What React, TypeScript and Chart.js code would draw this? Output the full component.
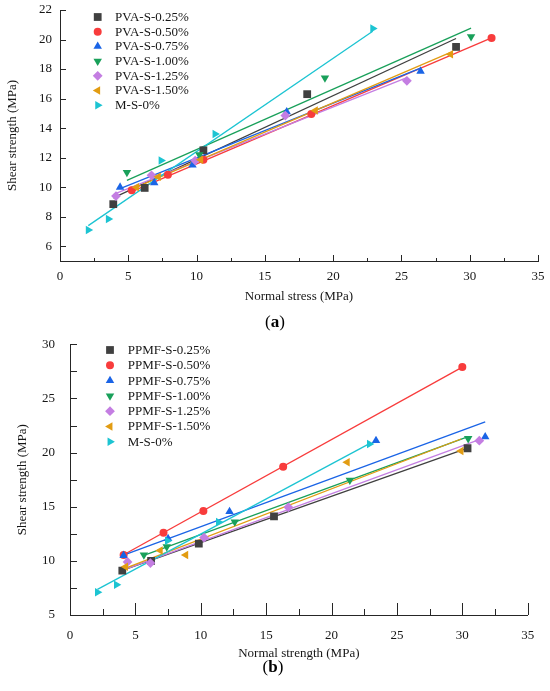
import { useEffect, useRef } from 'react';
import { Chart, registerables, type ChartConfiguration, type Plugin } from 'chart.js';

Chart.register(...registerables);
const FAMILY = "'Liberation Serif', 'Times New Roman', serif";
Chart.defaults.font.family = FAMILY;
Chart.defaults.font.size = 13;
Chart.defaults.color = '#161616';

const AXIS = '#262626';
const COLORS = ['#404040', '#f83c3c', '#1a64e6', '#19a05a', '#c47ee2', '#e29c12', '#1cc4d2'];
const SHAPES = ['rect', 'circle', 'triangle', 'triangle', 'rectRot', 'triangle', 'triangle'];
const ROTATIONS = [0, 0, 0, 180, 0, 270, 90];
const RADII = [5.5, 4, 4.9, 4.9, 4.9, 4.9, 4.9];

// (a) PVA fibre
const pvaSeries = ['PVA-S-0.25%', 'PVA-S-0.50%', 'PVA-S-0.75%', 'PVA-S-1.00%', 'PVA-S-1.25%', 'PVA-S-1.50%', 'M-S-0%'];
const pvaStress = [
  [3.9, 6.2, 10.5, 18.1, 29.0],
  [5.25, 7.9, 10.5, 18.4, 31.6],
  [4.4, 6.9, 9.7, 16.6, 26.4],
  [4.9, 10.2, 19.4, 30.1],
  [4.1, 6.7, 9.9, 16.5, 25.4],
  [5.6, 7.2, 10.3, 18.7, 28.6],
  [2.07, 3.54, 7.4, 11.35, 22.9],
];
const pvaShear = [
  [8.85, 9.95, 12.5, 16.3, 19.5],
  [9.8, 10.85, 11.85, 14.95, 20.1],
  [10.0, 10.3, 11.5, 15.1, 17.85],
  [11.0, 12.2, 17.4, 20.2],
  [9.4, 10.8, 11.8, 14.85, 17.2],
  [10.0, 10.7, 11.85, 15.2, 19.0],
  [7.1, 7.85, 11.8, 13.6, 20.75],
];
const pvaSlope = [0.43, 0.395, 0.371, 0.409, 0.368, 0.397, 0.632];
const pvaIntercept = [7.6, 7.63, 8.27, 8.46, 8.07, 7.78, 6.09];
const pvaXTicks = [0, 5, 10, 15, 20, 25, 30, 35];
const pvaYTicks = [6, 8, 10, 12, 14, 16, 18, 20, 22];

// (b) PPMF fibre
const ppmfSeries = ['PPMF-S-0.25%', 'PPMF-S-0.50%', 'PPMF-S-0.75%', 'PPMF-S-1.00%', 'PPMF-S-1.25%', 'PPMF-S-1.50%', 'M-S-0%'];
const ppmfStress = [
  [4.0, 6.2, 9.85, 15.6, 30.4],
  [4.1, 7.15, 10.2, 16.3, 30.0],
  [4.1, 7.5, 12.2, 23.4, 31.75],
  [5.65, 7.4, 12.6, 21.4, 30.45],
  [4.4, 6.15, 10.25, 16.7, 31.3],
  [4.25, 6.9, 8.85, 21.2, 29.9],
  [2.1, 3.55, 7.45, 11.35, 22.9],
];
const ppmfShear = [
  [9.1, 10.0, 11.6, 14.1, 20.4],
  [10.55, 12.6, 14.6, 18.7, 27.9],
  [10.5, 12.05, 14.55, 21.1, 21.45],
  [10.55, 11.3, 13.6, 17.45, 21.3],
  [9.9, 9.8, 12.15, 14.95, 21.1],
  [9.45, 10.95, 10.55, 19.1, 20.15],
  [7.1, 7.8, 11.85, 13.6, 20.8],
];
const ppmfSlope = [0.4275, 0.669, 0.445, 0.442, 0.4425, 0.465, 0.647];
const ppmfIntercept = [7.41, 7.82, 8.7, 8.01, 7.35, 7.35, 6.01];
const ppmfXTicks = [0, 5, 10, 15, 20, 25, 30, 35];
const ppmfYTicks = [5, 10, 15, 20, 25, 30];

type PanelSpec = {
  tag: string;
  height: number;
  series: string[];
  xs: number[][];
  ys: number[][];
  slope: number[];
  intercept: number[];
  xTicks: number[];
  yTicks: number[];
  xMin: number; xMax: number; yMin: number; yMax: number;
  xTitle: string; yTitle: string;
  padding: { left: number; top: number; right: number; bottom: number };
  yAxisWidth: number; xAxisHeight: number;
  xLabelPad: number; yLabelPad: number; xTitlePad: number; yTitlePad: number;
  xMajor: number; xMinor: number; yMajor: number; yMinor: number;
  legend: { mx: number; tx: number; y: number; dy: number };
  tagY: number; tagX: number;
};

const panelA: PanelSpec = {
  tag: 'a', height: 335,
  series: pvaSeries, xs: pvaStress, ys: pvaShear, slope: pvaSlope, intercept: pvaIntercept,
  xTicks: pvaXTicks, yTicks: pvaYTicks, xMin: 0, xMax: 35, yMin: 5, yMax: 22,
  xTitle: 'Normal stress (MPa)', yTitle: 'Shear strength (MPa)',
  padding: { left: 0, top: 10, right: 12, bottom: 30 },
  yAxisWidth: 60, xAxisHeight: 44,
  xLabelPad: 8, yLabelPad: 8, xTitlePad: 1, yTitlePad: 5,
  xMajor: 6, xMinor: 3, yMajor: 6, yMinor: 0,
  legend: { mx: 97.7, tx: 115, y: 17, dy: 14.7 },
  tagX: 275, tagY: 323,
};

const panelB: PanelSpec = {
  tag: 'b', height: 356,
  series: ppmfSeries, xs: ppmfStress, ys: ppmfShear, slope: ppmfSlope, intercept: ppmfIntercept,
  xTicks: ppmfXTicks, yTicks: ppmfYTicks, xMin: 0, xMax: 35, yMin: 5, yMax: 30,
  xTitle: 'Normal strength (MPa)', yTitle: 'Shear strength (MPa)',
  padding: { left: 0, top: 9.3, right: 22.3, bottom: 30 },
  yAxisWidth: 70, xAxisHeight: 46,
  xLabelPad: 13, yLabelPad: 15, xTitlePad: 0, yTitlePad: 15,
  xMajor: 12, xMinor: 6, yMajor: 7, yMinor: 7,
  legend: { mx: 110, tx: 127.7, y: 15, dy: 15.3 },
  tagX: 273, tagY: 333,
};

function drawMarker(ctx: CanvasRenderingContext2D, style: string, rot: number, x: number, y: number, r: number) {
  ctx.beginPath();
  if (style === 'circle') {
    ctx.arc(x, y, r, 0, Math.PI * 2);
  } else if (style === 'rect') {
    const s = Math.SQRT1_2 * r;
    ctx.rect(x - s, y - s, 2 * s, 2 * s);
  } else if (style === 'rectRot') {
    ctx.moveTo(x, y - r); ctx.lineTo(x + r, y); ctx.lineTo(x, y + r); ctx.lineTo(x - r, y);
    ctx.closePath();
  } else {
    let a = (rot * Math.PI) / 180;
    ctx.moveTo(x + Math.sin(a) * r, y - Math.cos(a) * r);
    for (let k = 0; k < 2; k++) {
      a += (Math.PI * 2) / 3;
      ctx.lineTo(x + Math.sin(a) * r, y - Math.cos(a) * r);
    }
    ctx.closePath();
  }
  ctx.fill();
}

function makeDecor(spec: PanelSpec): Plugin<'scatter'> {
  return {
    id: 'decor',
    afterDraw(chart) {
      const { ctx, chartArea: area, scales } = chart;
      const sx = scales.x, sy = scales.y;
      ctx.save();
      ctx.strokeStyle = AXIS;
      ctx.lineWidth = 1;
      const line = (x0: number, y0: number, x1: number, y1: number) => {
        ctx.beginPath(); ctx.moveTo(x0, y0); ctx.lineTo(x1, y1); ctx.stroke();
      };
      // inward tick marks
      spec.xTicks.forEach((v, i) => {
        const px = Math.round(sx.getPixelForValue(v)) + 0.5;
        line(px, area.bottom, px, area.bottom - spec.xMajor);
        const next = spec.xTicks[i + 1];
        if (next !== undefined && spec.xMinor > 0) {
          const mx = Math.round(sx.getPixelForValue((v + next) / 2)) + 0.5;
          line(mx, area.bottom, mx, area.bottom - spec.xMinor);
        }
      });
      spec.yTicks.forEach((v, i) => {
        const py = Math.round(sy.getPixelForValue(v)) + 0.5;
        line(area.left, py, area.left + spec.yMajor, py);
        const next = spec.yTicks[i + 1];
        if (next !== undefined && spec.yMinor > 0) {
          const my = Math.round(sy.getPixelForValue((v + next) / 2)) + 0.5;
          line(area.left, my, area.left + spec.yMinor, my);
        }
      });
      // legend
      ctx.font = `13px ${FAMILY}`;
      ctx.textBaseline = 'middle';
      ctx.textAlign = 'left';
      spec.series.forEach((name, i) => {
        const y = spec.legend.y + i * spec.legend.dy;
        ctx.fillStyle = COLORS[i];
        drawMarker(ctx, SHAPES[i], ROTATIONS[i], spec.legend.mx, y, RADII[i]);
        ctx.fillStyle = '#161616';
        ctx.fillText(name, spec.legend.tx, y + 0.5);
      });
      // panel tag "(a)" / "(b)"
      const normal = `17px ${FAMILY}`;
      const bold = `bold 17px ${FAMILY}`;
      ctx.font = normal;
      const wOpen = ctx.measureText('(').width;
      const wClose = ctx.measureText(')').width;
      ctx.font = bold;
      const wTag = ctx.measureText(spec.tag).width;
      let x = spec.tagX - (wOpen + wTag + wClose) / 2;
      ctx.fillStyle = '#000';
      ctx.font = normal; ctx.fillText('(', x, spec.tagY); x += wOpen;
      ctx.font = bold; ctx.fillText(spec.tag, x, spec.tagY); x += wTag;
      ctx.font = normal; ctx.fillText(')', x, spec.tagY);
      ctx.restore();
    },
  };
}

function buildConfig(spec: PanelSpec): ChartConfiguration<'scatter'> {
  const datasets: any[] = [];
  spec.series.forEach((name, i) => {
    const xs = spec.xs[i];
    const ends = [Math.min(...xs), Math.max(...xs)];
    datasets.push({
      label: `${name} fit`,
      data: ends.map((x) => ({ x, y: spec.intercept[i] + spec.slope[i] * x })),
      showLine: true,
      borderColor: COLORS[i],
      borderWidth: 1.3,
      pointRadius: 0,
      order: 20 - i,
    });
    datasets.push({
      label: name,
      data: xs.map((x, k) => ({ x, y: spec.ys[i][k] })),
      showLine: false,
      pointStyle: SHAPES[i],
      pointRotation: ROTATIONS[i],
      pointRadius: RADII[i],
      pointBackgroundColor: COLORS[i],
      pointBorderWidth: 0,
      order: 10 - i,
    });
  });

  return {
    type: 'scatter',
    data: { datasets },
    plugins: [makeDecor(spec)],
    options: {
      responsive: false,
      animation: false,
      layout: { padding: spec.padding },
      plugins: { legend: { display: false }, tooltip: { enabled: false } },
      scales: {
        x: {
          type: 'linear',
          min: spec.xMin,
          max: spec.xMax,
          afterBuildTicks: (s) => { s.ticks = spec.xTicks.map((value) => ({ value })); },
          afterFit: (s) => { s.height = spec.xAxisHeight; s.paddingLeft = 0; s.paddingRight = 0; },
          grid: { display: true, drawOnChartArea: false, drawTicks: false },
          border: { display: true, color: AXIS, width: 1 },
          ticks: { padding: spec.xLabelPad, autoSkip: false, maxRotation: 0, color: '#161616', font: { size: 13 } },
          title: { display: true, text: spec.xTitle, color: '#161616', font: { size: 13 }, padding: { top: 0, bottom: spec.xTitlePad } },
        },
        y: {
          type: 'linear',
          min: spec.yMin,
          max: spec.yMax,
          afterBuildTicks: (s) => { s.ticks = spec.yTicks.map((value) => ({ value })); },
          afterFit: (s) => { s.width = spec.yAxisWidth; s.paddingTop = 0; s.paddingBottom = 0; },
          grid: { display: true, drawOnChartArea: false, drawTicks: false },
          border: { display: true, color: AXIS, width: 1 },
          ticks: { padding: spec.yLabelPad, autoSkip: false, color: '#161616', font: { size: 13 } },
          title: { display: true, text: spec.yTitle, color: '#161616', font: { size: 13 }, padding: { top: spec.yTitlePad, bottom: 0 } },
        },
      },
    },
  };
}

function Panel({ spec }: { spec: PanelSpec }) {
  const canvas = useRef<HTMLCanvasElement>(null);
  useEffect(() => {
    if (!canvas.current) return;
    const chart = new Chart(canvas.current, buildConfig(spec));
    return () => chart.destroy();
  }, [spec]);
  return (
    <canvas
      ref={canvas}
      width={550}
      height={spec.height}
      style={{ display: 'block', width: 550, height: spec.height }}
    />
  );
}

export default function App() {
  return (
    <div style={{ position: 'absolute', left: 0, top: 0, width: 550, height: 691, background: '#ffffff' }}>
      <Panel spec={panelA} />
      <Panel spec={panelB} />
    </div>
  );
}
